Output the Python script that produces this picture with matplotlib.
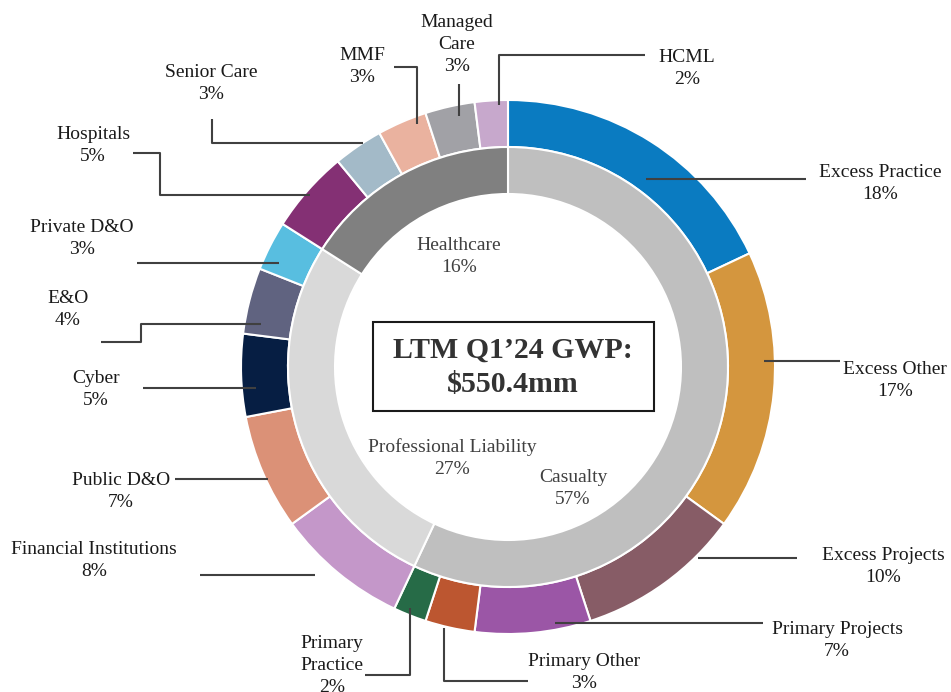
import matplotlib.pyplot as plt
from matplotlib.patches import Rectangle

# --- data ---
segments = ["Casualty", "Professional Liability", "Healthcare"]
segment_pct = [57, 27, 16]
segment_colors = ["#BFBFBF", "#D9D9D9", "#808080"]

lines = ["Excess Practice", "Excess Other", "Excess Projects", "Primary Projects",
         "Primary Other", "Primary Practice",
         "Financial Institutions", "Public D&O", "Cyber", "E&O", "Private D&O",
         "Hospitals", "Senior Care", "MMF", "Managed Care", "HCML"]
line_pct = [18, 17, 10, 7, 3, 2,
            8, 7, 5, 4, 3,
            5, 3, 3, 3, 2]
line_colors = ["#0A7BC1", "#D4963E", "#875C66", "#9B56A6", "#BC5630", "#266B47",
               "#C497C9", "#DB9177", "#061E43", "#606380", "#58BEE0",
               "#843074", "#A3BAC8", "#EAB29F", "#A1A1A6", "#C7A8CC"]

title_lines = ["LTM Q1\u201924 GWP:", "$550.4mm"]

# --- layout (pixel coords, y measured from top) ---
W, H = 951, 692
cx, cy = 508, 367
LINE_H = 22.5  # pixel distance between text lines

# label text position (center of first line) and leader path
outer_layout = {
    "Excess Practice": ((880, 172), [(646, 179), (806, 179)]),
    "Excess Other": ((895, 369), [(764, 361), (840, 361)]),
    "Excess Projects": ((883, 555), [(698, 558), (797, 558)]),
    "Primary Projects": ((837, 629), [(555, 623), (763, 623)]),
    "Primary Other": ((584, 661), [(444, 628), (444, 681), (528, 681)]),
    "Primary Practice": ((332, 643), [(410, 608), (410, 675), (365, 675)]),
    "Financial Institutions": ((94, 549), [(315, 575), (200, 575)]),
    "Public D&O": ((121, 480), [(268, 479), (175, 479)]),
    "Cyber": ((96, 378), [(256, 388), (143, 388)]),
    "E&O": ((68, 298), [(261, 324), (141, 324), (141, 342), (101, 342)]),
    "Private D&O": ((82, 227), [(279, 263), (137, 263)]),
    "Hospitals": ((93, 134), [(310, 195), (160, 195), (160, 153), (133, 153)]),
    "Senior Care": ((211, 72), [(363, 143), (212, 143), (212, 119)]),
    "MMF": ((362, 55), [(417, 124), (417, 67), (394, 67)]),
    "Managed Care": ((457, 22), [(459, 116), (459, 84)]),
    "HCML": ((687, 57), [(499, 105), (499, 55), (645, 55)]),
}
wrap = {"Managed Care": "Managed\nCare", "Primary Practice": "Primary\nPractice"}
inner_layout = {"Casualty": (573, 477), "Professional Liability": (452, 447),
                "Healthcare": (459, 245)}


def P(x, y):
    return x, H - y


def put_label(x, y_first, text, **kw):
    n = text.count("\n") + 1
    yc = y_first + (n - 1) * LINE_H / 2
    ax.text(*P(x, yc), text, ha="center", va="center", fontsize=14,
            linespacing=1.37, **kw)


plt.rcParams['font.family'] = ['Liberation Serif', 'DejaVu Serif']

fig = plt.figure(figsize=(W / 100, H / 100), dpi=100)
ax = fig.add_axes([0, 0, 1, 1])

ax.pie(line_pct, radius=267, center=P(cx, cy), startangle=90, counterclock=False,
       colors=line_colors, wedgeprops=dict(width=47, edgecolor="white", linewidth=1.5))
ax.pie(segment_pct, radius=220, center=P(cx, cy), startangle=90, counterclock=False,
       colors=segment_colors, wedgeprops=dict(width=47, edgecolor="white", linewidth=1.5))

for name, pct in zip(lines, line_pct):
    (tx, ty), path = outer_layout[name]
    xs = [p[0] for p in path]
    ys = [H - p[1] for p in path]
    ax.plot(xs, ys, color="#404040", lw=1.5, solid_capstyle="butt", zorder=5)
    label = wrap.get(name, name)
    put_label(tx, ty, f"{label}\n{pct}%", color="#1a1a1a")

for name, pct in zip(segments, segment_pct):
    tx, ty = inner_layout[name]
    put_label(tx, ty, f"{name}\n{pct}%", color="#404040")

ax.add_patch(Rectangle(P(373, 411), 654 - 373, 411 - 322, fill=False,
                       edgecolor="#1a1a1a", lw=1.5, zorder=6))
ax.text(*P(513, 367), "\n".join(title_lines), ha="center", va="center",
        fontsize=21.5, fontweight="bold", color="#333333", linespacing=1.35)

ax.set_xlim(0, W)
ax.set_ylim(0, H)
ax.set_aspect("equal")
ax.axis("off")

fig.savefig("out.png", dpi=100)
